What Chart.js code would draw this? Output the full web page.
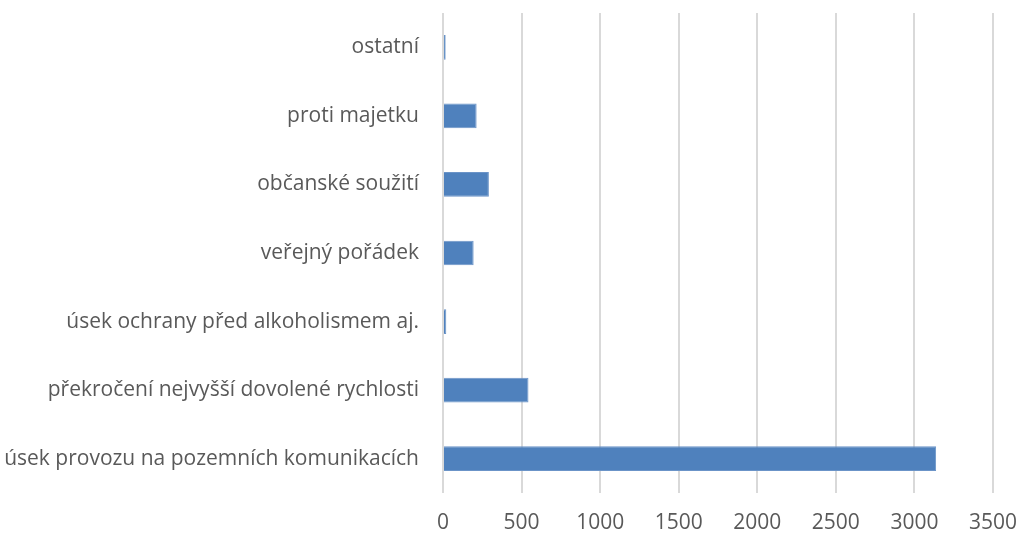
<!DOCTYPE html>
<html>
<head>
<meta charset="utf-8">
<script src="https://cdn.jsdelivr.net/npm/chart.js@4/dist/chart.umd.min.js"></script>
<style>
  html, body { margin: 0; padding: 0; background: #fff; }
  #wrap { width: 1020px; height: 535px; position: relative; }
</style>
</head>
<body>
<div id="wrap"><canvas id="bar"></canvas></div>
<script>
// categories (top to bottom)
const categories = [
  'ostatní',
  'proti majetku',
  'občanské soužití',
  'veřejný pořádek',
  'úsek ochrany před alkoholismem aj.',
  'překročení nejvyšší dovolené rychlosti',
  'úsek provozu na pozemních komunikacích'
];
const values = [17, 214, 292, 195, 21, 544, 3138];
const xTicks = [0, 500, 1000, 1500, 2000, 2500, 3000, 3500];

const data = {
  labels: categories,
  datasets: [
    {
      label: 'počet',
      data: values,
      backgroundColor: '#4f81bd',
      borderColor: '#6b94c8',
      borderWidth: 1,
      barPercentage: 0.36,
      categoryPercentage: 1
    }
  ]
};

const config = {
  type: 'bar',
  data: data,
  options: {
    indexAxis: 'y',
    responsive: true,
    maintainAspectRatio: false,
    animation: false,
    layout: { padding: { top: 13, right: 27, left: 0, bottom: 0 } },
    plugins: {
      legend: { display: false },
      tooltip: { enabled: false }
    },
    scales: {
      x: {
        min: xTicks[0],
        max: xTicks[xTicks.length - 1],
        afterBuildTicks: function (axis) {
          axis.ticks = xTicks.map(v => ({ value: v }));
        },
        afterFit: function (axis) {
          axis.height = 42;
          axis.paddingRight = 0;
        },
        grid: { color: '#d9d9d9', lineWidth: 2, drawTicks: false },
        border: { display: false },
        ticks: {
          padding: 17,
          color: '#595959',
          font: { family: 'Open Sans', size: 21 },
          callback: function (v) { return String(v); }
        }
      },
      y: {
        afterFit: function (axis) {
          axis.width = 443;
          axis.paddingTop = 0;
          axis.paddingBottom = 0;
        },
        grid: { display: false },
        border: { display: false },
        ticks: {
          padding: 16,
          color: '#595959',
          font: { family: 'Open Sans', size: 21 }
        }
      }
    }
  }
};

document.addEventListener("DOMContentLoaded", function () {
  const ctx = document.getElementById("bar").getContext("2d");
  const chart = new Chart(ctx, config);
});
</script>
</body>
</html>
